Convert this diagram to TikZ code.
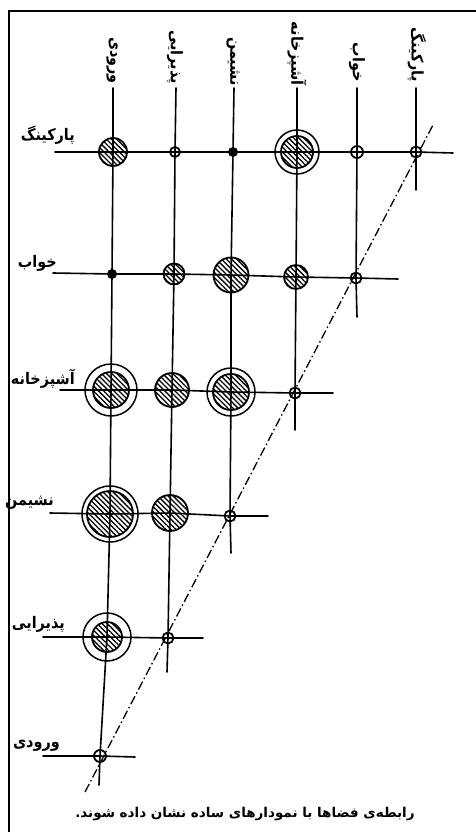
\documentclass[tikz,border=0pt]{standalone}
\usepackage{fontspec}
\usetikzlibrary{patterns.meta}
\newfontfamily\arabicfont[Script=Arabic]{DejaVu Sans}
\newfontfamily\labelfont[Script=Arabic,FakeStretch=0.9]{DejaVu Sans Bold}
\TeXXeTstate=1
\begin{document}
\begin{tikzpicture}[x=1pt,y=-1pt,
  gridline/.style={line width=1.6pt, line cap=round},
  diagline/.style={line width=1.3pt, dash pattern=on 9pt off 3pt on 1.5pt off 3pt},
  openc/.style={circle, draw, line width=1.8pt, inner sep=0pt, minimum size=#1},
  dotc/.style={circle, fill=black, inner sep=0pt, minimum size=#1},
  hatchc/.style={circle, draw, line width=1.8pt, inner sep=0pt, minimum size=#1,
     pattern={Lines[angle=-45,distance=3.6pt,line width=1.3pt]}},
  ringc/.style={circle, draw, line width=1.5pt, inner sep=0pt, minimum size=#1},
  rowlab/.style={anchor=base east, inner sep=0pt, font=\labelfont\fontsize{16}{16}\selectfont},
  collab/.style={anchor=east, rotate=-90, inner sep=0pt, font=\labelfont\fontsize{16}{16}\selectfont},
  caption/.style={inner sep=0pt, font=\arabicfont\bfseries\fontsize{13.5}{13.5}\selectfont}
]
\path[use as bounding box, fill=white] (0,0) rectangle (476,832);
% frame
\coordinate (fA) at (9,832); \coordinate (fB) at (9,11); \coordinate (fC) at (476,11);
\draw[line width=2pt] (fA) -- (fB) -- (fC);

% intersection points (row, column)
\coordinate (p11) at (113,152); \coordinate (p12) at (175,152); \coordinate (p13) at (233,152);
\coordinate (p14) at (297,152); \coordinate (p15) at (357,152); \coordinate (p16) at (416,152);
\coordinate (p21) at (112,274); \coordinate (p22) at (174,274); \coordinate (p23) at (231,275);
\coordinate (p24) at (296,277); \coordinate (p25) at (356,278);
\coordinate (p31) at (111,390); \coordinate (p32) at (172,390); \coordinate (p33) at (231,392);
\coordinate (p34) at (295,393);
\coordinate (p41) at (110,514); \coordinate (p42) at (170,513); \coordinate (p43) at (230,516);
\coordinate (p51) at (107,637); \coordinate (p52) at (168,638);
\coordinate (p61) at (100,756);

% line ends
\coordinate (t1) at (113,88); \coordinate (t2) at (176,88); \coordinate (t3) at (234,88);
\coordinate (t4) at (297,88); \coordinate (t5) at (357,88); \coordinate (t6) at (416,88);
\coordinate (b1) at (99,785); \coordinate (b2) at (167,672); \coordinate (b3) at (231,553);
\coordinate (b4) at (295,430); \coordinate (b5) at (357,317); \coordinate (b6) at (416,190);
\coordinate (l1) at (55,152); \coordinate (l2) at (53,273); \coordinate (l3) at (60,390);
\coordinate (l4) at (50,513); \coordinate (l5) at (43,637); \coordinate (l6) at (43,756);
\coordinate (r1) at (453,153); \coordinate (r2) at (398,279); \coordinate (r3) at (333,393);
\coordinate (r4) at (268,516); \coordinate (r5) at (203,638); \coordinate (r6) at (135,757);
\coordinate (dS) at (85,792); \coordinate (dE) at (433,125);

% columns
\draw[gridline] (t1) -- (p11) -- (p21) -- (p31) -- (p41) -- (p51) -- (p61) -- (b1);
\draw[gridline] (t2) -- (p12) -- (p22) -- (p32) -- (p42) -- (p52) -- (b2);
\draw[gridline] (t3) -- (p13) -- (p23) -- (p33) -- (p43) -- (b3);
\draw[gridline] (t4) -- (p14) -- (p24) -- (p34) -- (b4);
\draw[gridline] (t5) -- (p15) -- (p25) -- (b5);
\draw[gridline] (t6) -- (p16) -- (b6);
% rows
\draw[gridline] (l1) -- (p11) -- (p12) -- (p13) -- (p14) -- (p15) -- (p16) -- (r1);
\draw[gridline] (l2) -- (p21) -- (p22) -- (p23) -- (p24) -- (p25) -- (r2);
\draw[gridline] (l3) -- (p31) -- (p32) -- (p33) -- (p34) -- (r3);
\draw[gridline] (l4) -- (p41) -- (p42) -- (p43) -- (r4);
\draw[gridline] (l5) -- (p51) -- (p52) -- (r5);
\draw[gridline] (l6) -- (p61) -- (r6);
% diagonal
\draw[diagline] (dS) -- (dE);

% row 1: parking
\node[hatchc=28pt] (n11) at (p11) {};
\node[openc=10pt] (n12) at (p12) {};
\node[dotc=10pt] (n13) at (p13) {};
\node[ringc=44pt] (n14o) at (p14) {};
\node[hatchc=32pt] (n14) at (p14) {};
\node[openc=12pt] (n15) at (p15) {};
\node[openc=11pt] (n16) at (p16) {};
% row 2: sleep
\node[dotc=10pt] (n21) at (p21) {};
\node[hatchc=21pt] (n22) at (p22) {};
\node[hatchc=35pt] (n23) at (p23) {};
\node[hatchc=24pt] (n24) at (p24) {};
\node[openc=11pt] (n25) at (p25) {};
% row 3: kitchen
\node[ringc=52pt] (n31o) at (p31) {};
\node[hatchc=36pt] (n31) at (p31) {};
\node[hatchc=34pt] (n32) at (p32) {};
\node[ringc=48pt] (n33o) at (p33) {};
\node[hatchc=36pt] (n33) at (p33) {};
\node[openc=11pt] (n34) at (p34) {};
% row 4: living
\node[ringc=56pt] (n41o) at (p41) {};
\node[hatchc=46pt] (n41) at (p41) {};
\node[hatchc=36pt] (n42) at (p42) {};
\node[openc=11pt] (n43) at (p43) {};
% row 5: reception
\node[ringc=48pt] (n51o) at (p51) {};
\node[hatchc=30pt] (n51) at (p51) {};
\node[openc=11pt] (n52) at (p52) {};
% row 6: entrance
\node[openc=12pt] (n61) at (p61) {};

% row labels
\node[rowlab] (rl1) at (75,140) {\beginR پارکینگ\endR};
\node[rowlab] (rl2) at (57,267) {\beginR خواب\endR};
\node[rowlab] (rl3) at (75,384) {\beginR آشپزخانه\endR};
\node[rowlab] (rl4) at (54,505) {\beginR نشیمن\endR};
\node[rowlab] (rl5) at (65,628) {\beginR پذیرایی\endR};
\node[rowlab] (rl6) at (60,747) {\beginR ورودی\endR};
% column labels
\node[collab] (cl1) at (112,84) {\beginR ورودی\endR};
\node[collab] (cl2) at (175,84) {\beginR پذیرایی\endR};
\node[collab] (cl3) at (233,86) {\beginR نشیمن\endR};
\node[collab] (cl4) at (297,86) {\beginR آشپزخانه\endR};
\node[collab] (cl5) at (357,82) {\beginR خواب\endR};
\node[collab] (cl6) at (417,82) {\beginR پارکینگ\endR};

% caption
\node[caption] (cap) at (245,814) {\beginR رابطه‌ی فضاها با نمودارهای ساده نشان داده شوند.\endR};
\end{tikzpicture}
\end{document}
